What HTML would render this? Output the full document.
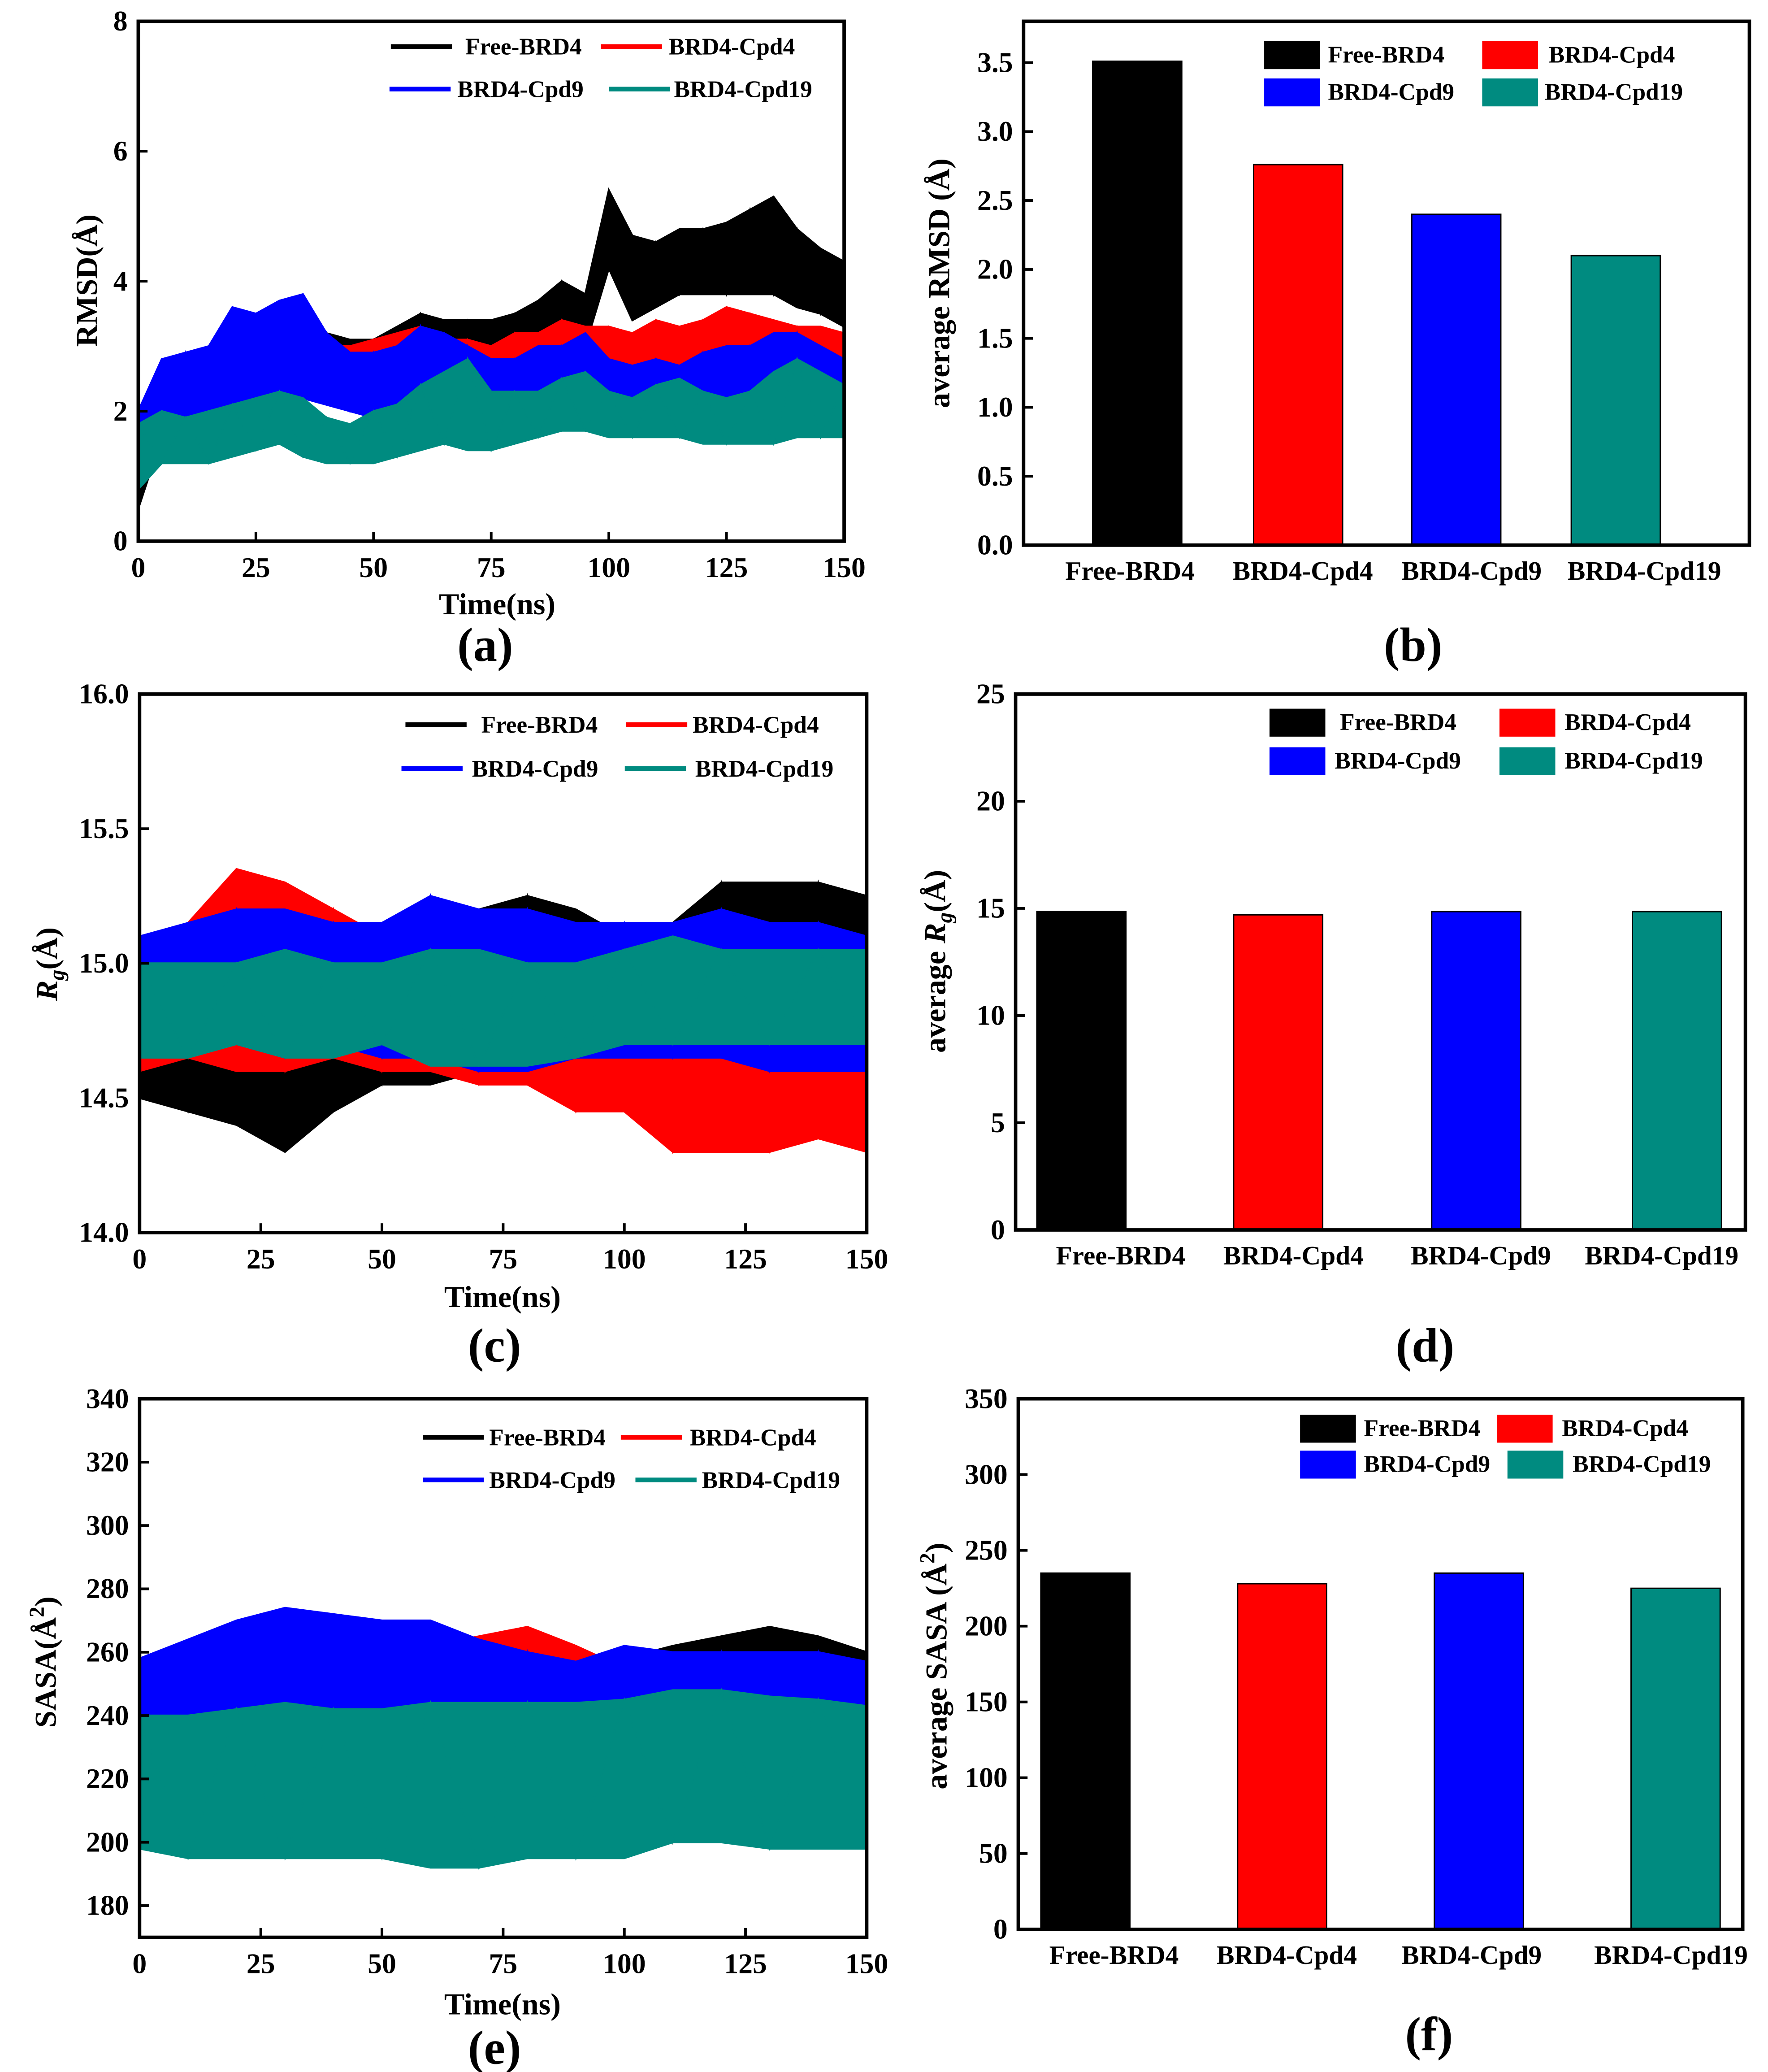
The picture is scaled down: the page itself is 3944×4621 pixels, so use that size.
<!DOCTYPE html>
<html><head><meta charset="utf-8"><style>
html,body{margin:0;padding:0;background:#fff}
svg{display:block}
text{font-family:"Liberation Serif",serif;font-weight:bold;fill:#000}
</style></head><body>
<svg id="fig" width="3944" height="4621" viewBox="0 0 1330 1558.3" xmlns="http://www.w3.org/2000/svg"></svg>
<script>
// ---- data ----
const seriesNames = ["Free-BRD4","BRD4-Cpd4","BRD4-Cpd9","BRD4-Cpd19"];
const colors = ["#000000","#ff0000","#0000ff","#008b80"];
// RMSD (a): time points every 5 ns
const rmsdTime = [0,5,10,15,20,25,30,35,40,45,50,55,60,65,70,75,80,85,90,95,100,105,110,115,120,125,130,135,140,145,150];
const rmsdFreeLo = [0.5,1.6,1.9,2.0,2.2,2.3,2.5,2.4,2.3,2.4,2.4,2.6,2.7,2.6,2.7,2.8,2.9,3.0,3.1,3.0,4.2,3.4,3.6,3.8,3.8,3.8,3.8,3.8,3.6,3.5,3.3];
const rmsdFreeHi = [1.5,2.6,2.9,2.9,3.1,3.3,3.5,3.6,3.2,3.1,3.1,3.3,3.5,3.4,3.4,3.4,3.5,3.7,4.0,3.8,5.4,4.7,4.6,4.8,4.8,4.9,5.1,5.3,4.8,4.5,4.3];
const rmsdCpd4Lo = [0.8,1.4,1.6,1.7,1.9,2.1,2.3,2.3,2.3,2.4,2.4,2.4,2.3,2.3,2.4,2.4,2.5,2.5,2.5,2.6,2.6,2.6,2.6,2.6,2.6,2.6,2.6,2.6,2.6,2.6,2.6];
const rmsdCpd4Hi = [1.6,2.3,2.5,2.6,3.0,3.3,3.3,3.2,3.0,3.0,3.1,3.2,3.3,3.1,3.1,3.0,3.2,3.2,3.4,3.3,3.3,3.2,3.4,3.3,3.4,3.6,3.5,3.4,3.3,3.3,3.2];
const rmsdCpd9Lo = [1.0,1.6,1.8,1.9,2.0,2.2,2.3,2.2,2.1,2.0,1.9,1.9,2.0,1.9,1.8,1.9,1.9,1.9,1.9,1.9,1.8,1.9,1.8,1.8,1.8,1.8,1.9,2.0,1.9,1.8,1.8];
const rmsdCpd9Hi = [2.0,2.8,2.9,3.0,3.6,3.5,3.7,3.8,3.2,2.9,2.9,3.0,3.3,3.2,3.0,2.8,2.8,3.0,3.0,3.2,2.8,2.7,2.8,2.7,2.9,3.0,3.0,3.2,3.2,3.0,2.8];
const rmsdCpd19Lo = [0.8,1.2,1.2,1.2,1.3,1.4,1.5,1.3,1.2,1.2,1.2,1.3,1.4,1.5,1.4,1.4,1.5,1.6,1.7,1.7,1.6,1.6,1.6,1.6,1.5,1.5,1.5,1.5,1.6,1.6,1.6];
const rmsdCpd19Hi = [1.8,2.0,1.9,2.0,2.1,2.2,2.3,2.2,1.9,1.8,2.0,2.1,2.4,2.6,2.8,2.3,2.3,2.3,2.5,2.6,2.3,2.2,2.4,2.5,2.3,2.2,2.3,2.6,2.8,2.6,2.4];
// Rg (c) & SASA (e): every 10 ns
const t10 = [0,10,20,30,40,50,60,70,80,90,100,110,120,130,140,150];
const rgFreeLo = [14.5,14.45,14.4,14.3,14.45,14.55,14.55,14.6,14.6,14.5,14.5,14.6,14.6,14.65,14.65,14.6];
const rgFreeHi = [15.1,15.1,15.15,15.1,15.05,15.1,15.15,15.2,15.25,15.2,15.1,15.15,15.3,15.3,15.3,15.25];
const rgCpd4Lo = [14.6,14.65,14.6,14.6,14.65,14.6,14.6,14.55,14.55,14.45,14.45,14.3,14.3,14.3,14.35,14.3];
const rgCpd4Hi = [15.05,15.15,15.35,15.3,15.2,15.1,15.05,15.0,14.95,14.9,14.9,14.8,14.75,14.7,14.7,14.75];
const rgCpd9Lo = [14.65,14.7,14.7,14.65,14.7,14.65,14.65,14.6,14.6,14.65,14.65,14.65,14.65,14.6,14.6,14.6];
const rgCpd9Hi = [15.1,15.15,15.2,15.2,15.15,15.15,15.25,15.2,15.2,15.15,15.15,15.15,15.2,15.15,15.15,15.1];
const rgCpd19Lo = [14.65,14.65,14.7,14.65,14.65,14.7,14.62,14.62,14.62,14.65,14.7,14.7,14.7,14.7,14.7,14.7];
const rgCpd19Hi = [15.0,15.0,15.0,15.05,15.0,15.0,15.05,15.05,15.0,15.0,15.05,15.1,15.05,15.05,15.05,15.05];
const sasaFreeLo = [200,198,198,200,200,200,198,200,202,202,202,205,205,205,205,205];
const sasaFreeHi = [250,255,258,255,255,255,255,255,258,258,258,262,265,268,265,260];
const sasaCpd4Lo = [200,198,198,198,200,200,200,200,200,198,198,200,202,200,200,200];
const sasaCpd4Hi = [245,248,250,255,255,258,262,265,268,262,255,252,255,255,252,250];
const sasaCpd9Lo = [205,205,208,210,208,205,205,202,200,200,200,205,205,205,205,205];
const sasaCpd9Hi = [258,264,270,274,272,270,270,264,260,257,262,260,260,260,260,257];
const sasaCpd19Lo = [198,195,195,195,195,195,192,192,195,195,195,200,200,198,198,198];
const sasaCpd19Hi = [240,240,242,244,242,242,244,244,244,244,245,248,248,246,245,243];
// bar averages
const avgRmsd = [3.51,2.76,2.40,2.10];
const avgRg = [14.85,14.7,14.85,14.85];
const avgSasa = [235,228,235,225];
const timeTicks = [0,25,50,75,100,125,150];
const rmsdTicks = [0,2,4,6,8];
const rgTicks = [14.0,14.5,15.0,15.5,16.0];
const sasaTicks = [180,200,220,240,260,280,300,320,340];
const avgRmsdTicks = [0,0.5,1,1.5,2,2.5,3,3.5];
const avgRgTicks = [0,5,10,15,20,25];
const avgSasaTicks = [0,50,100,150,200,250,300,350];

const NS="http://www.w3.org/2000/svg";
const fig=document.getElementById('fig');
function mk(tag,attrs,parent){const e=document.createElementNS(NS,tag);for(const k in attrs)e.setAttribute(k,attrs[k]);(parent||fig).appendChild(e);return e;}
function txt(s,x,y,size,anchor,parent){const t=mk('text',{x:x,y:y,'font-size':size,'text-anchor':anchor||'middle'},parent);t.textContent=s;return t;}

function frame(g,x0,x1,y0,y1){
  const r=mk('rect',{x:x0,y:y0,width:x1-x0,height:y1-y0,fill:'none',stroke:'#000','stroke-width':2.6},g);
  
  
}
function yAxis(g,ticks,sy,x0,fmt){
  ticks.forEach(v=>{const y=sy(v);
    mk('line',{x1:x0,x2:x0+7,y1:y,y2:y,stroke:'#000','stroke-width':2},g);
    const t=txt(fmt(v),x0-8,y+7,21.5,'end',g);
    
    
  });
}
function legendLines(g,items){
  items.forEach(it=>{
    const l=mk('line',{x1:it.lx,x2:it.lx+46,y1:it.y,y2:it.y,stroke:colors[it.i],'stroke-width':3.5},g);
    
    
    const t=txt(seriesNames[it.i],it.tx,it.y+6,18,'start',g);
    
    
  });
}
function legendBoxes(g,items){
  items.forEach(it=>{
    const r=mk('rect',{x:it.lx,y:it.y-10,width:42,height:21,fill:colors[it.i]},g);
    
    
    const t=txt(seriesNames[it.i],it.tx,it.y+6,18,'start',g);
    
    
  });
}
function linePanel(o){
  const g=mk('g',{});
  
  
  const sx=v=>o.x0+(v-0)/150*(o.x1-o.x0);
  const sy=v=>o.y1-(v-o.ymin)/(o.ymax-o.ymin)*(o.y1-o.y0);
  const clipId=o.name+'-clip';
  const cp=mk('clipPath',{id:clipId},g);mk('rect',{x:o.x0,y:o.y0,width:o.x1-o.x0,height:o.y1-o.y0},cp);
  const pg=mk('g',{'clip-path':'url(#'+clipId+')'},g);
  o.series.forEach((s,i)=>{
    let pts=[];
    o.time.forEach((t,k)=>pts.push(sx(t)+','+sy(s.hi[k])));
    for(let k=o.time.length-1;k>=0;k--)pts.push(sx(o.time[k])+','+sy(s.lo[k]));
    let zz=[];o.time.forEach((t,k)=>{zz.push(sx(t)+','+sy(k%2?s.lo[k]:s.hi[k]));});
    const p=mk('polygon',{points:pts.join(' '),fill:colors[i],stroke:colors[i],'stroke-width':1.5},pg);
    
    
    mk('polyline',{points:zz.join(' '),fill:'none',stroke:colors[i],'stroke-width':1.2},pg);
  });
  frame(g,o.x0,o.x1,o.y0,o.y1);
  timeTicks.forEach(v=>{const x=sx(v);
    mk('line',{x1:x,x2:x,y1:o.y1,y2:o.y1-7,stroke:'#000','stroke-width':2},g);
    const t=txt(String(v),x,o.y1+27,21.5,'middle',g);
    
    
  });
  yAxis(g,o.ticks,sy,o.x0,o.fmt);
  const xt=txt('Time(ns)',o.xtX,o.xtY,23,'middle',g);
  
  
  legendLines(g,o.legend);
  return g;
}
function barPanel(o){
  const g=mk('g',{});
  
  
  const sy=v=>o.y1-v/o.ymax*(o.y1-o.y0);
  o.values.forEach((v,i)=>{
    const b=mk('rect',{x:o.bx[i],y:sy(v),width:o.bw,height:o.y1-sy(v),fill:colors[i],stroke:'#000','stroke-width':1},g);
    
    
    const t=txt(seriesNames[i],o.lx[i],o.y1+26,20,'middle',g);
    
    
  });
  frame(g,o.x0,o.x1,o.y0,o.y1);
  yAxis(g,o.ticks,sy,o.x0,o.fmt);
  legendBoxes(g,o.legend);
  return g;
}
function rotTitle(parts,x,y,name){
  const t=mk('text',{x:0,y:0,'font-size':23,'text-anchor':'middle',transform:'translate('+x+','+y+') rotate(-90)'});
  
  
  parts.forEach(p=>{const s=mk('tspan',p.a||{},t);s.textContent=p.s;});
}
function panelLabel(s,x,y){const t=txt(s,x,y,36,'middle');}

linePanel({name:'rmsd-chart',x0:104,x1:635,y0:16,y1:407,ymin:0,ymax:8,time:rmsdTime,ticks:rmsdTicks,fmt:v=>String(v),xtX:374,xtY:462,
  series:[{lo:rmsdFreeLo,hi:rmsdFreeHi},{lo:rmsdCpd4Lo,hi:rmsdCpd4Hi},{lo:rmsdCpd9Lo,hi:rmsdCpd9Hi},{lo:rmsdCpd19Lo,hi:rmsdCpd19Hi}],
  legend:[{i:0,lx:294,tx:350,y:35},{i:1,lx:452,tx:503,y:35},{i:2,lx:293,tx:344,y:67},{i:3,lx:458,tx:507,y:67}]});
linePanel({name:'rg-chart',x0:105,x1:652,y0:522,y1:927,ymin:14,ymax:16,time:t10,ticks:rgTicks,fmt:v=>v.toFixed(1),xtX:378,xtY:983,
  series:[{lo:rgFreeLo,hi:rgFreeHi},{lo:rgCpd4Lo,hi:rgCpd4Hi},{lo:rgCpd9Lo,hi:rgCpd9Hi},{lo:rgCpd19Lo,hi:rgCpd19Hi}],
  legend:[{i:0,lx:305,tx:362,y:545},{i:1,lx:471,tx:521,y:545},{i:2,lx:302,tx:355,y:578},{i:3,lx:470,tx:523,y:578}]});
linePanel({name:'sasa-chart',x0:105,x1:652,y0:1052,y1:1457,ymin:170,ymax:340,time:t10,ticks:sasaTicks,fmt:v=>String(v),xtX:378,xtY:1515,
  series:[{lo:sasaFreeLo,hi:sasaFreeHi},{lo:sasaCpd4Lo,hi:sasaCpd4Hi},{lo:sasaCpd9Lo,hi:sasaCpd9Hi},{lo:sasaCpd19Lo,hi:sasaCpd19Hi}],
  legend:[{i:0,lx:318,tx:368,y:1081},{i:1,lx:467,tx:519,y:1081},{i:2,lx:318,tx:368,y:1113},{i:3,lx:478,tx:528,y:1113}]});

barPanel({name:'avg-rmsd-chart',x0:770,x1:1316,y0:16,y1:410,ymax:3.8,values:avgRmsd,bx:[822,943,1062,1182],bw:67,lx:[850,980,1107,1237],
  ticks:avgRmsdTicks,fmt:v=>v.toFixed(1),
  legend:[{i:0,lx:951,tx:999,y:41},{i:1,lx:1115,tx:1165,y:41},{i:2,lx:951,tx:999,y:69},{i:3,lx:1115,tx:1162,y:69}]});
barPanel({name:'avg-rg-chart',x0:764,x1:1313,y0:522,y1:925,ymax:25,values:avgRg,bx:[780,928,1077,1228],bw:67,lx:[843,973,1114,1250],
  ticks:avgRgTicks,fmt:v=>String(v),
  legend:[{i:0,lx:955,tx:1008,y:543},{i:1,lx:1128,tx:1177,y:543},{i:2,lx:955,tx:1004,y:572},{i:3,lx:1128,tx:1177,y:572}]});
barPanel({name:'avg-sasa-chart',x0:766,x1:1311,y0:1052,y1:1451,ymax:350,values:avgSasa,bx:[783,931,1079,1227],bw:67,lx:[838,968,1107,1257],
  ticks:avgSasaTicks,fmt:v=>String(v),
  legend:[{i:0,lx:978,tx:1026,y:1074},{i:1,lx:1126,tx:1175,y:1074},{i:2,lx:978,tx:1026,y:1101},{i:3,lx:1134,tx:1183,y:1101}]});

rotTitle([{s:'RMSD(Å)'}],73,211,'y-axis-title-rmsd');
rotTitle([{s:'average RMSD (Å)'}],714,213,'y-axis-title-avg-rmsd');
rotTitle([{s:'R',a:{'font-style':'italic'}},{s:'g',a:{'font-style':'italic','font-size':16,dy:5}},{s:'(Å)',a:{dy:-5}}],43,725,'y-axis-title-rg');
rotTitle([{s:'average '},{s:'R',a:{'font-style':'italic'}},{s:'g',a:{'font-style':'italic','font-size':16,dy:5}},{s:'(Å)',a:{dy:-5}}],711,723,'y-axis-title-avg-rg');
rotTitle([{s:'SASA(Å'},{s:'2',a:{'font-size':16,dy:-9}},{s:')',a:{dy:9}}],42,1250,'y-axis-title-sasa');
rotTitle([{s:'average SASA (Å'},{s:'2',a:{'font-size':16,dy:-9}},{s:')',a:{dy:9}}],712,1253,'y-axis-title-avg-sasa');

panelLabel('(a)',365,497);panelLabel('(b)',1063,497);
panelLabel('(c)',372,1024);panelLabel('(d)',1072,1024);
panelLabel('(e)',372,1552);panelLabel('(f)',1075,1542);
</script>
</body></html>
